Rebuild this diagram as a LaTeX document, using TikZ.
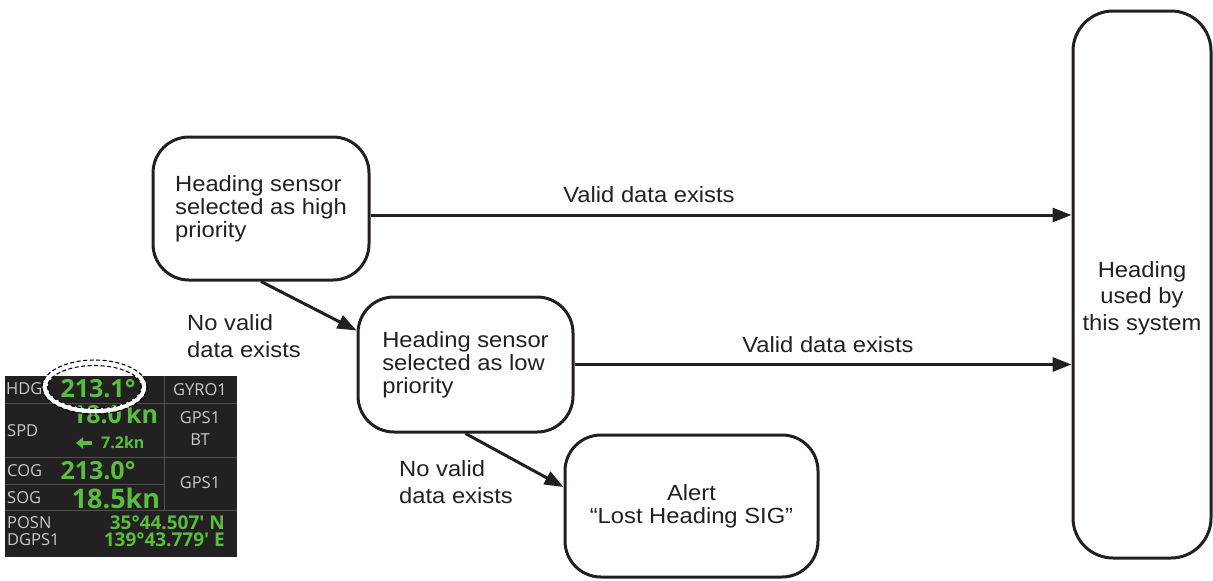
\documentclass[tikz,border=0pt]{standalone}
\usepackage{fontspec}
\setmainfont{Liberation Sans}[FakeStretch=1.08]
\newfontfamily\panelfont{Open Sans}
\usetikzlibrary{arrows.meta}
\definecolor{ink}{RGB}{35,31,32}
\definecolor{panelbg}{RGB}{34,32,33}
\definecolor{panelline}{RGB}{80,80,80}
\definecolor{panelgray}{RGB}{200,200,200}
\definecolor{panelgreen}{RGB}{88,190,64}
\tikzset{
  flowbox/.style={draw=ink, line width=3pt, rounded corners=36pt, fill=white,
    text=ink, align=left, inner sep=0pt, font=\fontsize{22}{23}\selectfont},
  conn/.style={draw=ink, line width=3pt, -{Triangle[length=19pt,width=14pt]}},
  lbl/.style={text=ink, inner sep=0pt, font=\fontsize{22}{27}\selectfont, align=left},
  pgray/.style={text=panelgray, inner sep=0pt, font=\panelfont\fontsize{16.5}{17}\selectfont},
  pgreen/.style={text=panelgreen, inner sep=0pt, font=\panelfont\bfseries\fontsize{25}{26}\selectfont},
  pgreensmall/.style={text=panelgreen, inner sep=0pt, font=\panelfont\bfseries\fontsize{19}{17}\selectfont},
  grid/.style={draw=panelline, line width=1pt}
}
\begin{document}
\begin{tikzpicture}[x=1pt,y=-1pt]
\useasboundingbox (0,0) rectangle (1213,581);

% flow boxes
\node[flowbox, minimum width=216pt, minimum height=143pt] (b1) at (261,208.5)
  {Heading sensor\\selected as high\\priority};
\node[flowbox, minimum width=215pt, minimum height=135pt] (b2) at (465.5,364.5)
  {Heading sensor\\selected as low\\priority};
\node[flowbox, align=center, minimum width=253pt, minimum height=142pt] (b3) at (691.5,506)
  {Alert\\“Lost Heading SIG”};
\node[flowbox, rounded corners=40pt, minimum width=138pt, minimum height=547pt] (b4) at (1142,284.5) {};
\node[lbl, align=center, font=\fontsize{22}{26.5}\selectfont] (b4t) at (1142,298) {Heading\\used by\\this system};

% connectors
\draw[conn] ([yshift=-6.5pt]b1.east) -- ([yshift=-6.5pt]b1.east -| b4.west);
\draw[conn] (b2.east) -- (b2.east -| b4.west);
\draw[conn] (b1.south) -- ([yshift=34pt]b2.west);
\draw[conn] (b2.south) -- ([yshift=19pt]b3.west);

% labels
\node[lbl, anchor=base] (v1) at (649,202) {Valid data exists};
\node[lbl, anchor=base] (v2) at (828,352) {Valid data exists};
\node[lbl, anchor=north west] (n1) at (187,314.5) {No valid\\data exists};
\node[lbl, anchor=north west] (n2) at (399,460.5) {No valid\\data exists};

% display panel
\fill[panelbg] (5,376) rectangle (237,557);
\draw[grid] (5,403) -- (237,403);
\draw[grid] (5,457) -- (237,457);
\draw[grid] (5,484) -- (164,484);
\draw[grid] (5,510) -- (237,510);
\draw[grid] (164,376) -- (164,510);

\node[pgray, anchor=west] (hdg) at (6,389) {HDG};
\node[pgreen] (hdgv) at (98,389) {213.1°};
\node[pgray] (gyro) at (200,390) {GYRO1};
\node[pgreen] (spdv) at (115,414) {18.0\,kn};
\node[pgray, anchor=west] (spd) at (7,431) {SPD};
\draw[panelgreen, line width=4pt, -{Triangle[length=7pt,width=11pt]}] (92,443) -- (76,443);
\node[pgreensmall, font=\panelfont\bfseries\fontsize{16}{17}\selectfont, anchor=west] (spd2) at (101,443) {7.2kn};
\node[pgray] (gps1) at (200,418) {GPS1};
\node[pgray] (bt) at (200,440) {BT};
\node[pgray, anchor=west] (cog) at (7,471) {COG};
\node[pgreen] (cogv) at (98,471) {213.0°};
\node[pgray, anchor=west] (sog) at (7,498) {SOG};
\node[pgreen, font=\panelfont\bfseries\fontsize{27}{28}\selectfont] (sogv) at (116,498) {18.5kn};
\node[pgray] (gps2) at (200,483) {GPS1};
\node[pgray, anchor=west] (posn) at (7,523) {POSN};
\node[pgray, anchor=west] (dgps) at (7,540) {DGPS1};
\node[pgreensmall, anchor=east] (lat) at (225,523) {35°44.507' N};
\node[pgreensmall, anchor=east] (lon) at (225,540) {139°43.779' E};

% highlight ellipse
\draw[white, line width=5pt] (94.5,387) ellipse [x radius=49.5pt, y radius=24pt];
\draw[black, line width=1.1pt, dash pattern=on 4pt off 2.5pt] (94.5,387) ellipse [x radius=52.5pt, y radius=27pt];
\draw[black, line width=1.1pt, dash pattern=on 4pt off 2.5pt] (94.5,387) ellipse [x radius=47pt, y radius=21.5pt];
\end{tikzpicture}
\end{document}
